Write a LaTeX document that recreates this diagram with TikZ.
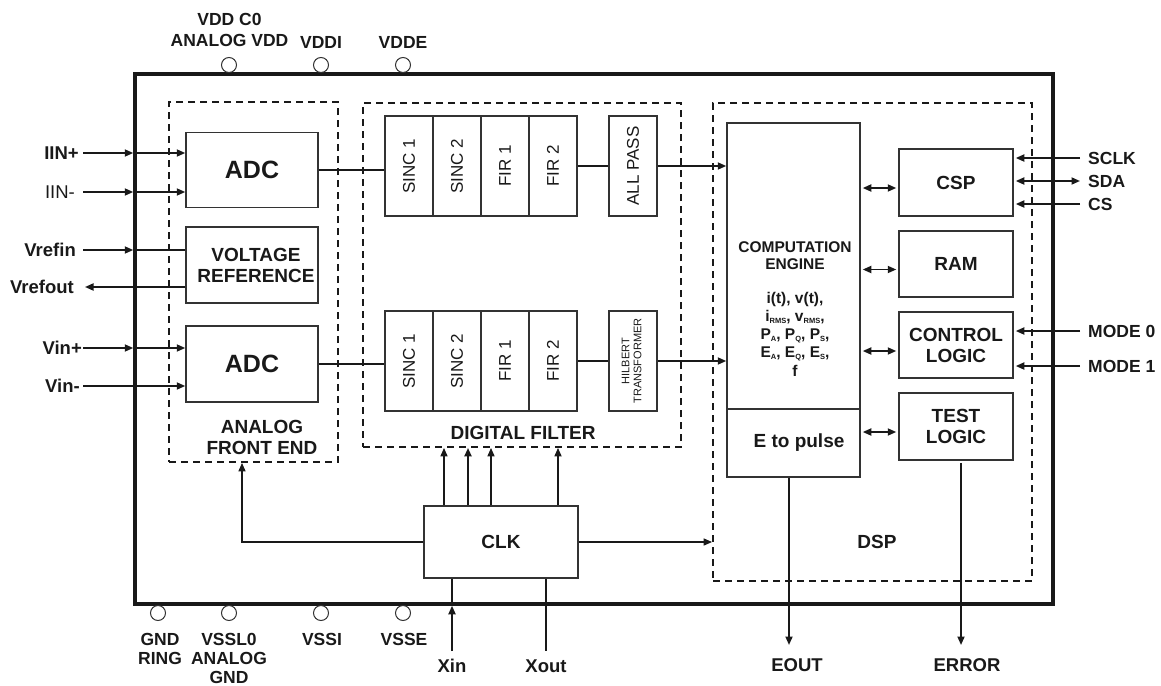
\documentclass[tikz,border=0pt]{standalone}
\usepackage{fontspec}
\setmainfont{Liberation Sans}
\usetikzlibrary{arrows.meta}
\newcommand\fsz[2]{\fontsize{#1}{#2}\selectfont}
\newcommand\sbx[1]{\raisebox{-2pt}{\fontsize{7.5}{7.5}\selectfont #1}}
\begin{document}
\begin{tikzpicture}[x=1pt,y=-1pt,
  box/.style={draw=black!80, line width=1.5pt, inner sep=0pt, align=center, text=black!90, font=\bfseries\fsz{19}{21}},
  cell/.style={draw=black!80, line width=1.5pt, inner sep=0pt, minimum width=48pt, minimum height=100pt, text=black!90, font=\fsz{17}{19}},
  grp/.style={draw=black!90, line width=1.8pt, dash pattern=on 7pt off 5pt, inner sep=0pt},
  wire/.style={draw=black!90, line width=1.8pt},
  arr/.style={wire, -{Triangle[length=8.5pt,width=7pt]}},
  darr/.style={wire, {Triangle[length=8.5pt,width=7pt]}-{Triangle[length=8.5pt,width=7pt]}},
  pinlbl/.style={font=\bfseries\fsz{17.5}{19}, inner sep=0pt, text=black!90, align=center},
  pad/.style={circle, draw=black!80, line width=1pt, minimum size=15pt, inner sep=0pt},
  lbl/.style={font=\bfseries\fsz{19}{21}, inner sep=0pt, align=center, text=black!90}]
\useasboundingbox (0,0) rectangle (1161,685);

% chip outline and groups
\node[draw=black!90, line width=3.5pt, minimum width=918pt, minimum height=530pt, inner sep=0pt] (chip) at (594,339) {};
\node[grp, minimum width=169pt, minimum height=360pt] (afe) at (253.5,282) {};
\node[grp, minimum width=318pt, minimum height=344pt] (df) at (522,275) {};
\node[grp, minimum width=319pt, minimum height=478pt] (dsp) at (872.5,342) {};

% pads top
\node[pad] (pvdd) at (229,65) {};
\node[pad] (pvddi) at (321,65) {};
\node[pad] (pvdde) at (403,65) {};
\node[pinlbl, font=\bfseries\fsz{17.5}{21}] (lvdd) at (229.5,29.5) {VDD C0\\ANALOG VDD};
\node[pinlbl] (lvddi) at (321,42) {VDDI};
\node[pinlbl] (lvdde) at (403,42) {VDDE};
% pads bottom
\node[pad] (pgnd) at (158,613) {};
\node[pad] (pvssl) at (229,613) {};
\node[pad] (pvssi) at (321,613) {};
\node[pad] (pvsse) at (403,613) {};
\node[pinlbl] (lgnd) at (160,648.5) {GND\\RING};
\node[pinlbl] (lvssl) at (229,658) {VSSL0\\ANALOG\\GND};
\node[pinlbl] (lvssi) at (322,639) {VSSI};
\node[pinlbl] (lvsse) at (404,639) {VSSE};

% analog front end
\node[box, font=\bfseries\fsz{25}{27}, minimum width=132pt, minimum height=75pt] (adc1) at (252,170) {ADC};
\node[box, minimum width=132pt, minimum height=76pt] (vref) at (252,265) {\hspace*{8pt}VOLTAGE\\\hspace*{8pt}REFERENCE};
\node[box, font=\bfseries\fsz{25}{27}, minimum width=132pt, minimum height=76pt] (adc2) at (252,364) {ADC};
\node[lbl] (afel) at (262,437.5) {ANALOG\\FRONT END};

% digital filter
\node[cell] (s1a) at (409,166) {\rotatebox{90}{SINC 1}};
\node[cell] (s2a) at (457,166) {\rotatebox{90}{SINC 2}};
\node[cell] (f1a) at (505,166) {\rotatebox{90}{FIR 1}};
\node[cell] (f2a) at (553,166) {\rotatebox{90}{FIR 2}};
\node[cell] (apa) at (633,166) {\rotatebox{90}{ALL PASS}};
\node[cell] (s1b) at (409,361) {\rotatebox{90}{SINC 1}};
\node[cell] (s2b) at (457,361) {\rotatebox{90}{SINC 2}};
\node[cell] (f1b) at (505,361) {\rotatebox{90}{FIR 1}};
\node[cell] (f2b) at (553,361) {\rotatebox{90}{FIR 2}};
\node[cell, font=\fsz{11}{12}] (hil) at (633,361) {\rotatebox{90}{\begin{tabular}{@{}c@{}}HILBERT\\TRANSFORMER\end{tabular}}};
\node[lbl] (dfl) at (523,433) {DIGITAL FILTER};

% DSP
\node[box, minimum width=133pt, minimum height=286pt] (ce) at (793.5,266) {};
\node[lbl, font=\bfseries\fsz{15.5}{17}] (cet) at (795,256) {COMPUTATION\\ENGINE};
\node[lbl, font=\bfseries\fsz{15.5}{18.3}] (cev) at (795,334) {i(t), v(t),\\i\sbx{RMS}, v\sbx{RMS},\\P\sbx{A}, P\sbx{Q}, P\sbx{S},\\E\sbx{A}, E\sbx{Q}, E\sbx{S},\\f};
\node[box, minimum width=133pt, minimum height=68pt] (ep) at (793.5,443) {\hspace*{11pt}E to pulse};
\node[box, minimum width=114pt, minimum height=67pt] (csp) at (956,182.5) {CSP};
\node[box, minimum width=114pt, minimum height=66pt] (ram) at (956,264) {RAM};
\node[box, minimum width=114pt, minimum height=66pt] (ctl) at (956,345) {CONTROL\\LOGIC};
\node[box, minimum width=114pt, minimum height=67pt] (tst) at (956,426.5) {TEST\\LOGIC};
\node[lbl] (dspl) at (877,542) {DSP};

% CLK
\node[box, minimum width=154pt, minimum height=72pt] (clk) at (501,542) {CLK};

% left pins
\node[pinlbl, font=\bfseries\fsz{18.5}{20}, anchor=east] (liinp) at (79,153) {IIN+};
\node[pinlbl, font=\fsz{18.5}{20}, anchor=east] (liinm) at (75,192) {IIN-};
\node[pinlbl, font=\bfseries\fsz{18.5}{20}, anchor=east] (lvrin) at (76,250) {Vrefin};
\node[pinlbl, font=\bfseries\fsz{18.5}{20}, anchor=east] (lvrout) at (74,287) {Vrefout};
\node[pinlbl, font=\bfseries\fsz{18.5}{20}, anchor=east] (lvinp) at (82,348) {Vin+};
\node[pinlbl, font=\bfseries\fsz{18.5}{20}, anchor=east] (lvinm) at (80,386) {Vin-};
\coordinate (iinp) at (83,153);
\coordinate (iinm) at (83,192);
\coordinate (vrin) at (83,250);
\coordinate (vrout) at (85,287);
\coordinate (vinp) at (83,348);
\coordinate (vinm) at (83,386);
\draw[arr] (iinp) -- (iinp -| chip.west);
\draw[arr] (iinp -| chip.west) -- (iinp -| adc1.west);
\draw[arr] (iinm) -- (iinm -| chip.west);
\draw[arr] (iinm -| chip.west) -- (iinm -| adc1.west);
\draw[arr] (vrin) -- (vrin -| chip.west);
\draw[wire] (vrin -| chip.west) -- (vrin -| vref.west);
\draw[arr] (vrout -| vref.west) -- (vrout);
\draw[arr] (vinp) -- (vinp -| chip.west);
\draw[arr] (vinp -| chip.west) -- (vinp -| adc2.west);
\draw[arr] (vinm) -- (vinm -| adc2.west);

% analog -> digital filter
\draw[wire] (adc1.east) -- (adc1.east -| s1a.west);
\draw[wire] (adc2.east) -- (adc2.east -| s1b.west);
\draw[wire] (f2a) -- (apa);
\draw[wire] (f2b) -- (hil);
\draw[arr] (apa.east) -- (apa.east -| ce.west);
\draw[arr] (hil.east) -- (hil.east -| ce.west);

% CE <-> peripherals
\coordinate (cspi) at ([yshift=-5.5pt]csp.west);
\coordinate (rami) at ([yshift=-5.5pt]ram.west);
\coordinate (ctli) at ([yshift=-6pt]ctl.west);
\coordinate (tsti) at ([yshift=-5.5pt]tst.west);
\draw[darr, shorten <=2pt, shorten >=2pt] (cspi -| ce.east) -- (cspi);
\draw[darr, shorten <=2pt, shorten >=2pt] (rami -| ce.east) -- (rami);
\draw[darr, shorten <=2pt, shorten >=2pt] (ctli -| ce.east) -- (ctli);
\draw[darr, shorten <=2pt, shorten >=2pt] (tsti -| ce.east) -- (tsti);

% right pins
\coordinate (sclk) at (1080,158);
\coordinate (sda) at (1080,181);
\coordinate (cs) at (1080,204);
\coordinate (md0) at (1080,331);
\coordinate (md1) at (1080,366);
\node[pinlbl, anchor=west] (lsclk) at (1088,158) {SCLK};
\node[pinlbl, anchor=west] (lsda) at (1088,181) {SDA};
\node[pinlbl, anchor=west] (lcs) at (1088,204) {CS};
\node[pinlbl, anchor=west] (lmd0) at (1088,331) {MODE 0};
\node[pinlbl, anchor=west] (lmd1) at (1088,366) {MODE 1};
\draw[arr, shorten >=2pt] (sclk) -- (sclk -| csp.east);
\draw[darr, shorten <=2pt] (sda -| csp.east) -- (sda);
\draw[arr, shorten >=2pt] (cs) -- (cs -| csp.east);
\draw[arr, shorten >=2pt] (md0) -- (md0 -| ctl.east);
\draw[arr, shorten >=2pt] (md1) -- (md1 -| ctl.east);

% clock distribution
\draw[arr, line width=1.5pt] (clk.west) -| ([xshift=-11.5pt]afe.south);
\draw[arr, line width=1.5pt] (clk.east) -- (clk.east -| dsp.west);
\coordinate (ck1) at ([xshift=-57pt]clk.north);
\coordinate (ck2) at ([xshift=-33pt]clk.north);
\coordinate (ck3) at ([xshift=-10pt]clk.north);
\coordinate (ck4) at ([xshift=57pt]clk.north);
\draw[arr, line width=1.6pt] (ck1) -- (ck1 |- df.south);
\draw[arr, line width=2.4pt] (ck2) -- (ck2 |- df.south);
\draw[arr, line width=1.6pt] (ck3) -- (ck3 |- df.south);
\draw[arr, line width=1.6pt] (ck4) -- (ck4 |- df.south);

% bottom pins
\coordinate (xin) at (452,651);
\coordinate (xout) at (546,651);
\coordinate (eout) at (789,645);
\coordinate (err) at (961,645);
\draw[arr] (xin) -- (xin |- chip.south);
\draw[wire] (xin |- chip.south) -- (xin |- clk.south);
\draw[wire] (xout |- clk.south) -- (xout);
\draw[arr] (eout |- ep.south) -- (eout);
\draw[arr, shorten <=2pt] (err |- tst.south) -- (err);
\node[pinlbl, font=\bfseries\fsz{18.5}{20}] (lxin) at (452,666) {Xin};
\node[pinlbl, font=\bfseries\fsz{18.5}{20}] (lxout) at (546,666) {Xout};
\node[pinlbl, font=\bfseries\fsz{18.5}{20}] (leout) at (797,665) {EOUT};
\node[pinlbl, font=\bfseries\fsz{18.5}{20}] (lerr) at (967,665) {ERROR};
\end{tikzpicture}
\end{document}
